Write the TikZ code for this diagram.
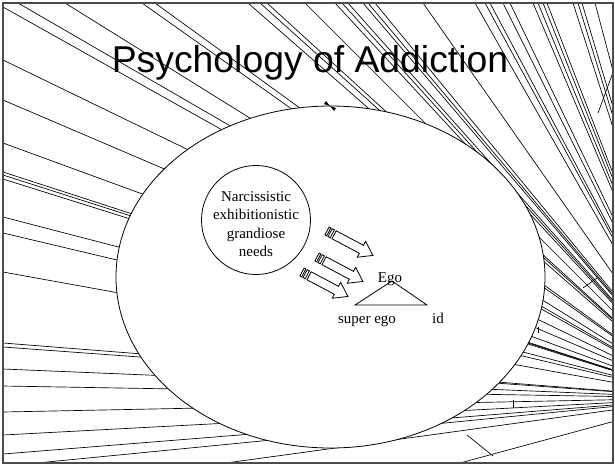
\documentclass[tikz,border=0pt]{standalone}
\usepackage{fontspec}
\setmainfont{Liberation Serif}
\newfontfamily\titlefont{Liberation Sans}
\begin{document}
\begin{tikzpicture}[x=0.75pt,y=-0.75pt,
  bgline/.style={line width=0.5pt,black},
  shapeline/.style={line width=0.6pt,black},
  bodytext/.style={font=\fontsize{11.25}{13.7}\selectfont,inner sep=0pt},
  titletext/.style={font=\titlefont\fontsize{28}{32}\selectfont,inner sep=0pt}]
\useasboundingbox (0,0) rectangle (615,465);
\coordinate (vp) at (700,398);
% background fan of lines
\begin{scope}
  \clip (3,3) rectangle (613,463);
  \foreach \x in {18,65,142,155,248,260,267,305,335,342,348,363,368,375,423,475,485,490,503,510,533,538,543,547,573,578,582,595}
    \draw[bgline] (\x,3) -- (vp);
  \foreach \y in {7,60,100,143,172,175,179,217,233,272,343,347,369,386,412,435,454}
    \draw[bgline] (3,\y) -- (vp);
  \foreach \x in {37,226,460}
    \draw[bgline] (\x,463) -- (vp);
  \draw[bgline] (583,288) -- (597,278);
  \draw[bgline] (513,400) -- (513,408);
  \draw[bgline] (467,435) -- (493,456);
  \draw[bgline] (538,327) -- (538,333);
  \draw[bgline] (598,113) -- (615,67);
\end{scope}
% main ellipse
\draw[shapeline,fill=white] (330.5,277) ellipse [x radius=214.5, y radius=171];
\coordinate (mk) at (330,106);
\fill (mk) -- ++(-4,-5) -- ++(-2,3) -- cycle;
\fill (mk) -- ++(4,5) -- ++(2,-3) -- cycle;
% frame
\draw[gray!60!black,line width=0.9pt] (3,3) rectangle (613,463);
% title
\node[titletext,anchor=base] (title) at (310,72) {Psychology of Addiction};
% needs circle
\draw[shapeline,fill=white] (256,220) circle [radius=54.5];
\node[bodytext,align=center] (needs) at (256,224) {Narcissistic\\exhibitionistic\\grandiose\\needs};
% striped arrows
\foreach \px/\py in {327/231, 317/257, 302/272}{
  \begin{scope}[shift={(\px,\py)},rotate=-28]
    \draw[shapeline,fill=white] (8,-4.5) -- (39,-4.5) -- (39,-9) -- (52,0) -- (39,9) -- (39,4.5) -- (8,4.5) -- cycle;
    \draw[shapeline,fill=white] (0,-4.5) rectangle (2,4.5);
    \draw[shapeline,fill=white] (3.5,-4.5) rectangle (6,4.5);
  \end{scope}
}
% ego triangle
\draw[shapeline] (355,305) -- (392,281) -- (427,305) -- cycle;
\node[bodytext,anchor=base] (ego) at (390,282) {Ego};
\node[bodytext,anchor=base] (superego) at (367,323) {super ego};
\node[bodytext,anchor=base] (id) at (438,323) {id};
\end{tikzpicture}
\end{document}
